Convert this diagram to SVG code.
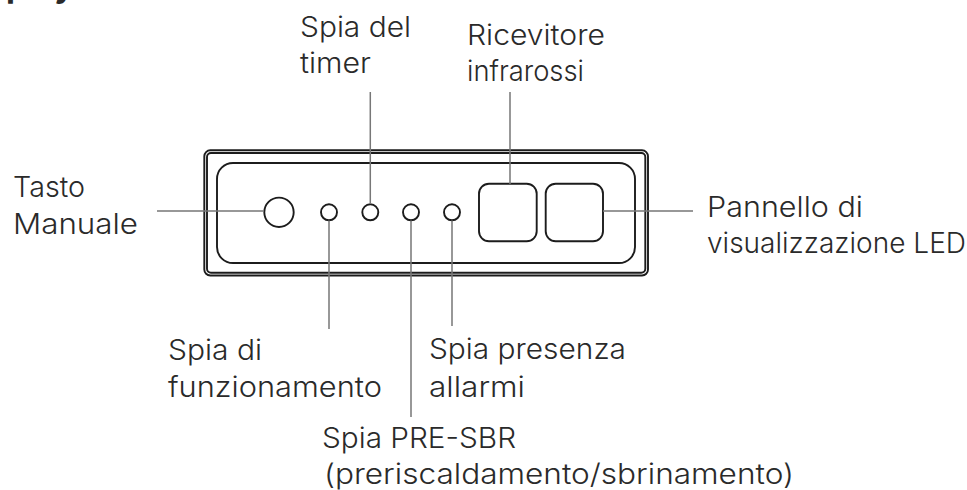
<svg xmlns="http://www.w3.org/2000/svg" width="967" height="490" viewBox="0 0 967 490">
<style>
.t{font-family:"Inter","Liberation Sans",sans-serif;font-size:28px;font-weight:300;fill:#2a2a2a}
.h{font-family:"Inter","Liberation Sans",sans-serif;font-size:34px;font-weight:700;fill:#2a2a2a}
.b{fill:none;stroke:#1c1c1c;stroke-width:1.9}
.c{fill:none;stroke:#777;stroke-width:1.5}
</style>
<rect width="967" height="490" fill="#fff"/>
<text class="h" x="6" y="-3" textLength="68" lengthAdjust="spacingAndGlyphs">play</text>
<g id="device">
<rect class="b" x="204.300" y="150.300" width="443.700" height="125.200" rx="6"/>
<rect class="b" x="207" y="153" width="438.300" height="119.800" rx="4"/>
<rect class="b" x="217" y="163" width="418" height="100" rx="16"/>
</g>
<g id="tasto-manuale"><circle class="b" cx="279" cy="212.300" r="14.700"/><text class="t" x="13" y="197" textLength="72" lengthAdjust="spacingAndGlyphs">Tasto</text><text class="t" x="13" y="234" textLength="125" lengthAdjust="spacingAndGlyphs">Manuale</text></g>
<g id="spia-funzionamento"><circle class="b" cx="329" cy="212.300" r="8"/><text class="t" x="168" y="360" textLength="94" lengthAdjust="spacingAndGlyphs">Spia di</text><text class="t" x="168" y="397" textLength="214" lengthAdjust="spacingAndGlyphs">funzionamento</text></g>
<g id="spia-timer"><circle class="b" cx="370.300" cy="212.300" r="8"/><text class="t" x="300" y="37" textLength="111" lengthAdjust="spacingAndGlyphs">Spia del</text><text class="t" x="300" y="73" textLength="71" lengthAdjust="spacingAndGlyphs">timer</text></g>
<g id="spia-pre-sbr"><circle class="b" cx="411" cy="212.300" r="8"/><text class="t" x="322" y="448" textLength="194" lengthAdjust="spacingAndGlyphs">Spia PRE-SBR</text><text class="t" x="324" y="484" textLength="470" lengthAdjust="spacingAndGlyphs">(preriscaldamento/sbrinamento)</text></g>
<g id="spia-allarmi"><circle class="b" cx="452" cy="212.300" r="8"/><text class="t" x="429" y="359" textLength="197" lengthAdjust="spacingAndGlyphs">Spia presenza</text><text class="t" x="429" y="397" textLength="96" lengthAdjust="spacingAndGlyphs">allarmi</text></g>
<g id="ricevitore"><rect class="b" x="479" y="183.700" width="57.700" height="57.600" rx="10"/><text class="t" x="467" y="45" textLength="138" lengthAdjust="spacingAndGlyphs">Ricevitore</text><text class="t" x="467" y="81" textLength="117" lengthAdjust="spacingAndGlyphs">infrarossi</text></g>
<g id="pannello-led"><rect class="b" x="545.700" y="183.700" width="57.300" height="57.600" rx="10"/><text class="t" x="707" y="217" textLength="156" lengthAdjust="spacingAndGlyphs">Pannello di</text><text class="t" x="707" y="253" textLength="259" lengthAdjust="spacingAndGlyphs">visualizzazione LED</text></g>
<g id="connectors">
<path class="c" d="M157 211H264M370.300 92V204M329 220.500V329M411 220.500V417M452 220.500V326M510 92V184M603 211H693"/>
</g>
</svg>
